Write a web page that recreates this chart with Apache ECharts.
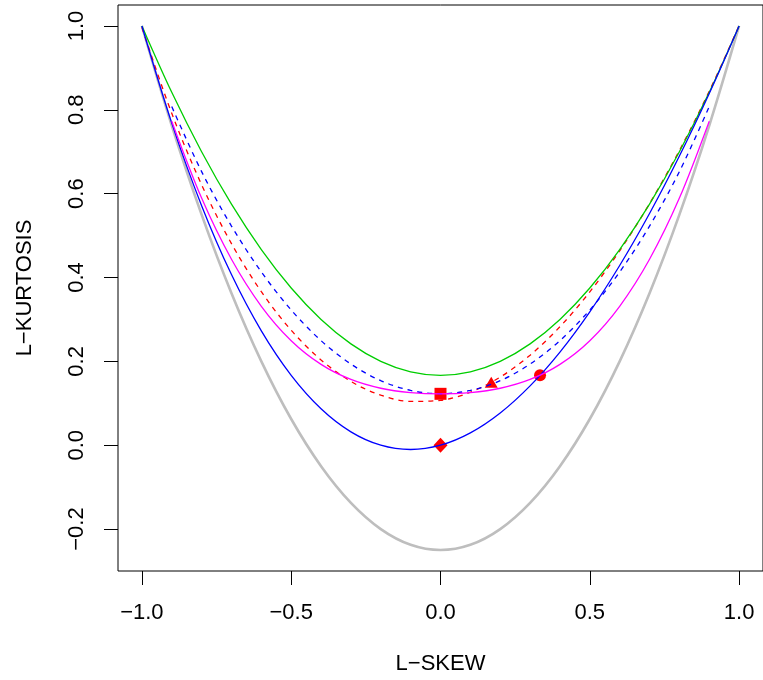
<!DOCTYPE html>
<html>
<head>
<meta charset="utf-8">
<script src="https://cdn.jsdelivr.net/npm/echarts@6/dist/echarts.min.js"></script>
<style>
html,body{margin:0;padding:0;background:#fff;}
#chart{width:763px;height:680px;}
</style>
</head>
<body>
<div id="chart"></div>
<script>
// L-skew grid for full-range curves
const skewFull = [-1.0,-0.9,-0.8,-0.7,-0.6,-0.5,-0.4,-0.3,-0.2,-0.1,0.0,0.1,0.2,0.3,0.4,0.5,0.6,0.7,0.8,0.9,1.0];
// L-skew grid for curves drawn on |t3| <= 0.9
const skewInner = [-0.9,-0.8,-0.7,-0.6,-0.5,-0.4,-0.3,-0.2,-0.1,0.0,0.1,0.2,0.3,0.4,0.5,0.6,0.7,0.8,0.9];

// theoretical lower limit (grey)
const limitsKurt = [1.0,0.7625,0.55,0.3625,0.2,0.0625,-0.05,-0.1375,-0.2,-0.2375,-0.25,-0.2375,-0.2,-0.1375,-0.05,0.0625,0.2,0.3625,0.55,0.7625,1.0];
// generalized extreme value (red dashed)
const gevKurt = [0.9966,0.7916,0.6214,0.4808,0.3661,0.2742,0.2034,0.1521,0.1193,0.1045,0.1070,0.1265,0.1626,0.2148,0.2827,0.3658,0.4638,0.5762,0.7029,0.8443,1.0008];
// generalized logistic (green)
const gloKurt = [1.0,0.8417,0.7,0.575,0.4667,0.375,0.3,0.2417,0.2,0.175,0.1667,0.175,0.2,0.2417,0.3,0.375,0.4667,0.575,0.7,0.8417,1.0];
// generalized Pareto (blue)
const gpaKurt = [1.0,0.7683,0.5714,0.4070,0.2727,0.1667,0.0870,0.0319,0.0,-0.0102,0.0,0.0294,0.0769,0.1415,0.2222,0.3182,0.4286,0.5526,0.6897,0.8390,1.0];
// generalized normal / log-normal (blue dashed)
const gnoKurt = [0.8077,0.6526,0.5226,0.4133,0.3226,0.2495,0.1935,0.1540,0.1306,0.1228,0.1306,0.1540,0.1935,0.2495,0.3226,0.4133,0.5226,0.6526,0.8077];
// Pearson type III (magenta)
const pe3Kurt = [0.7729,0.5894,0.4435,0.3314,0.2493,0.1929,0.1569,0.1359,0.1255,0.1224,0.1255,0.1359,0.1569,0.1929,0.2493,0.3314,0.4435,0.5894,0.7729];

// special distributions: exponential, normal, Gumbel, uniform
const pointNames = ['EXP','NOR','GUM','UNI'];
const pointSkew = [0.3333,0.0,0.1699,0.0];
const pointKurt = [0.1667,0.1226,0.1504,0.0];

const xTicks = [-1.0,-0.5,0.0,0.5,1.0];
const yTicks = [-0.2,0.0,0.2,0.4,0.6,0.8,1.0];

function zip(xs, ys){ return xs.map((x,i)=>[x, ys[i]]); }
function fmt(v){ const s = Number(v).toFixed(1); return s.replace('-', '\u2212'); }

const FONT = 'Liberation Sans, Arial, Helvetica, sans-serif';
const FS = 22;
const LW = 1.3;
const SM = 0.33;

function lineSeries(name, xs, ys, color, width, dashed){
  return {
    name: name, type: 'line', data: zip(xs, ys), smooth: SM,
    symbol: 'none', silent: true, animation: false,
    lineStyle: {color: color, width: width, type: dashed ? [5,5] : 'solid'}
  };
}

const pointSymbols = ['circle','rect','triangle','diamond'];
const pointSizes = [12, 12, [13,11], [14,15]];

const chart = echarts.init(document.getElementById('chart'), null, {renderer:'canvas'});
chart.setOption({
  backgroundColor: '#ffffff',
  animation: false,
  grid: {left: 118, right: -3, top: 5, bottom: 109, show: true, borderColor: '#000', borderWidth: 1, backgroundColor: 'transparent'},
  xAxis: {
    type: 'value', min: -1.08, max: 1.08,
    splitLine: {show: false},
    axisLine: {show: false, onZero: false},
    axisTick: {show: true, customValues: xTicks, length: 14, lineStyle: {color: '#000', width: 1}},
    axisLabel: {customValues: xTicks, formatter: fmt, margin: 31, color: '#000', fontSize: FS, fontFamily: FONT},
    name: 'L\u2212SKEW', nameLocation: 'middle', nameGap: 82,
    nameTextStyle: {color: '#000', fontSize: FS, fontFamily: FONT}
  },
  yAxis: {
    type: 'value', min: -0.3, max: 1.05,
    splitLine: {show: false},
    axisLine: {show: false, onZero: false},
    axisTick: {show: true, customValues: yTicks, length: 14, lineStyle: {color: '#000', width: 1}},
    axisLabel: {customValues: yTicks, formatter: fmt, rotate: 90, margin: 30, color: '#000', fontSize: FS, fontFamily: FONT},
    name: 'L\u2212KURTOSIS', nameLocation: 'middle', nameGap: 82,
    nameTextStyle: {color: '#000', fontSize: FS, fontFamily: FONT}
  },
  series: [
    lineSeries('limits', skewFull, limitsKurt, '#BEBEBE', 2.6, false),
    lineSeries('GEV', skewFull, gevKurt, '#FF0000', LW, true),
    lineSeries('GLO', skewFull, gloKurt, '#00CD00', LW, false),
    lineSeries('GNO', skewInner, gnoKurt, '#0000FF', LW, true),
    lineSeries('GPA', skewFull, gpaKurt, '#0000FF', LW, false),
    lineSeries('PE3', skewInner, pe3Kurt, '#FF00FF', LW, false),
    {
      name: 'points', type: 'scatter', silent: true, animation: false,
      data: pointNames.map((n,i)=>({
        name: n, value: [pointSkew[i], pointKurt[i]],
        symbol: pointSymbols[i], symbolSize: pointSizes[i]
      })),
      itemStyle: {color: '#FF0000', opacity: 1}
    }
  ]
});
</script>
</body>
</html>
